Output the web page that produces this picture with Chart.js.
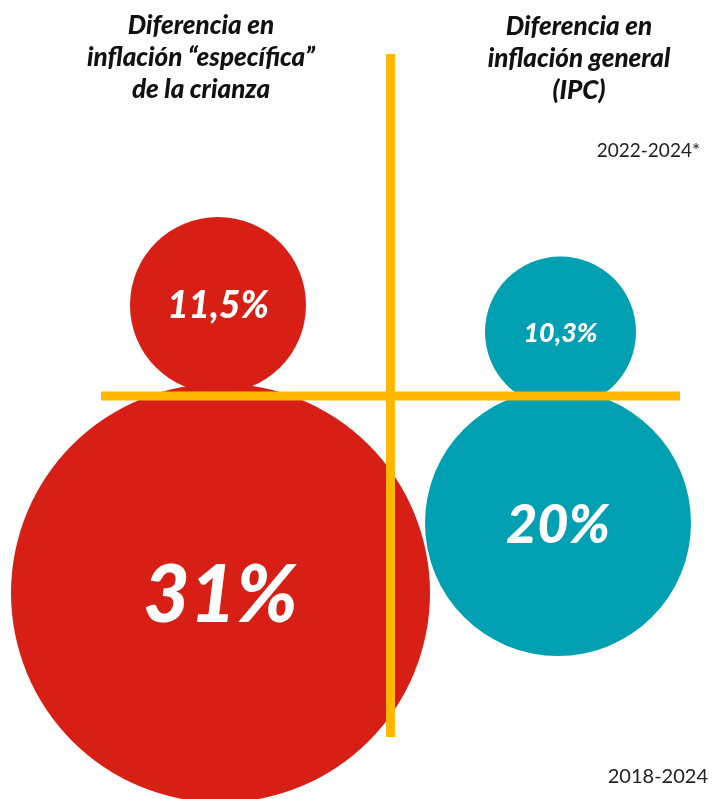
<!DOCTYPE html>
<html>
<head>
<meta charset="utf-8">
<script src="https://cdn.jsdelivr.net/npm/chart.js@4/dist/chart.umd.min.js"></script>
<style>
  html, body { margin: 0; padding: 0; background: #fff; }
  #wrap { position: relative; width: 716px; height: 799px; overflow: hidden; }
  canvas { position: absolute; left: 0; top: 0; }
  .title {
    position: absolute; width: 320px; text-align: center;
    font-family: Lato, sans-serif; font-weight: 900; font-style: italic;
    font-size: 26px; line-height: 32px; color: #111;
  }
  .period {
    position: absolute; font-family: Lato, sans-serif; font-size: 19px; color: #222;
  }
</style>
</head>
<body>
<div id="wrap">
  <canvas id="chart" width="716" height="799"></canvas>
  <div class="title" id="t0" style="left:41px; top:8px;"></div>
  <div class="title" id="t1" style="left:419px; top:9px;"></div>
  <div class="period" id="p0" style="right:16px; top:138px;"></div>
  <div class="period" id="p1" style="right:8px; top:763px; font-size:20px;"></div>
</div>
<script>
// categories and periods
const categories = ['Diferencia en<br>inflación “específica”<br>de la crianza', 'Diferencia en<br>inflación general<br>(IPC)'];
const periods = ['2022-2024*', '2018-2024'];

// values (%) per period: [2022-2024, 2018-2024]
const crianzaValues = [11.5, 31];
const ipcValues = [10.3, 20];

// bubble placement in chart units (cross at 0,0), radius in px
const crianzaX = [-172.5, -170];
const crianzaY = [91, -197];
const crianzaR = [88, 209.5];
const ipcX = [170, 167.5];
const ipcY = [64, -127];
const ipcR = [75.5, 133];
const labelSizes = [[37, 80], [27, 54]];

const red = '#d81f15';
const teal = '#00a0b3';
const yellow = '#ffb700';

document.getElementById('t0').innerHTML = categories[0];
document.getElementById('t1').innerHTML = categories[1];
document.getElementById('p0').textContent = periods[0];
document.getElementById('p1').textContent = periods[1];

function fmt(v) {
    return String(v).replace('.', ',') + '%';
}

function bubbles(xs, ys, rs, vals) {
    return vals.map((v, i) => ({ x: xs[i], y: ys[i], r: rs[i], v: v }));
}

// white labels in the middle of each bubble
const bubbleLabels = {
    id: 'bubbleLabels',
    afterDatasetsDraw(chart) {
        const ctx = chart.ctx;
        ctx.save();
        ctx.fillStyle = '#fff';
        ctx.textAlign = 'center';
        ctx.textBaseline = 'middle';
        [0, 1].forEach(d => {
            const meta = chart.getDatasetMeta(d);
            meta.data.forEach((el, i) => {
                const raw = chart.data.datasets[d].data[i];
                ctx.font = 'italic 900 ' + labelSizes[d][i] + 'px Lato';
                ctx.fillText(fmt(raw.v), el.x, el.y + labelSizes[d][i] * 0.04);
            });
        });
        ctx.restore();
    }
};

new Chart(document.getElementById('chart'), {
    type: 'bubble',
    data: {
        datasets: [
            {
                label: 'crianza',
                data: bubbles(crianzaX, crianzaY, crianzaR, crianzaValues),
                backgroundColor: red,
                borderWidth: 0,
                clip: false,
                order: 2
            },
            {
                label: 'IPC',
                data: bubbles(ipcX, ipcY, ipcR, ipcValues),
                backgroundColor: teal,
                borderWidth: 0,
                clip: false,
                order: 2
            },
            {
                type: 'line',
                data: [{ x: 0, y: 342 }, { x: 0, y: -341 }],
                borderColor: yellow,
                borderWidth: 9,
                borderCapStyle: 'butt',
                pointRadius: 0,
                order: 1
            },
            {
                type: 'line',
                data: [{ x: -289.5, y: 0 }, { x: 289.5, y: 0 }],
                borderColor: yellow,
                borderWidth: 9,
                borderCapStyle: 'butt',
                pointRadius: 0,
                order: 0
            }
        ]
    },
    options: {
        responsive: false,
        animation: false,
        events: [],
        layout: { padding: 0, autoPadding: false },
        scales: {
            x: { type: 'linear', min: -390.5, max: 325.5, display: false },
            y: { type: 'linear', min: -403, max: 396, display: false }
        },
        plugins: {
            legend: { display: false },
            tooltip: { enabled: false }
        }
    },
    plugins: [bubbleLabels]
});
</script>
</body>
</html>
